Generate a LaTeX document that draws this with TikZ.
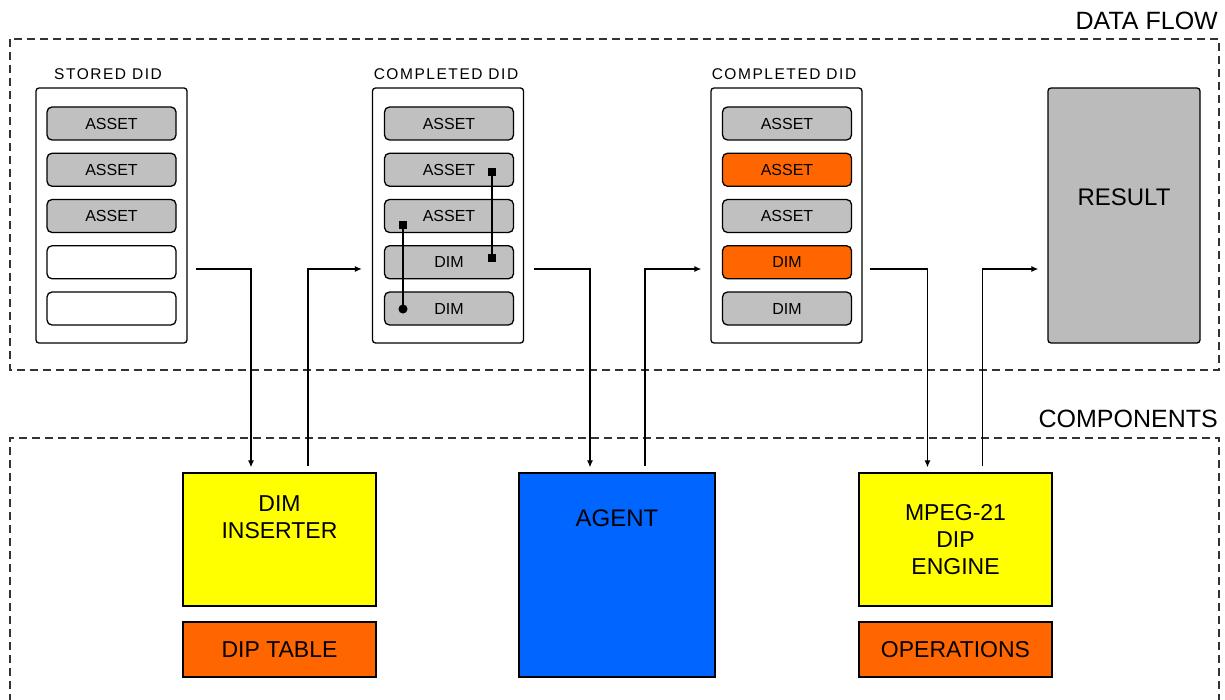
\documentclass[tikz,border=0pt]{standalone}
\usepackage{fontspec}
\setmainfont{Liberation Sans}
\newfontfamily\spacedfont[LetterSpace=10]{Liberation Sans}
\usetikzlibrary{arrows.meta}
\definecolor{itemgray}{RGB}{192,192,192}
\definecolor{resgray}{RGB}{187,187,187}
\definecolor{dorange}{RGB}{255,102,0}
\definecolor{dyellow}{RGB}{255,255,0}
\definecolor{dblue}{RGB}{0,102,255}
\begin{document}
\begin{tikzpicture}[x=1pt,y=-1pt,
  dashedbox/.style={draw=black!80, line width=1.3pt, dash pattern=on 8pt off 5pt},
  didbox/.style={draw, line width=1.3pt, rounded corners=3pt, minimum width=151pt, minimum height=255pt, inner sep=0pt},
  item/.style={draw, line width=1.3pt, rounded corners=5pt, fill=itemgray, minimum width=129pt, minimum height=33pt, inner sep=0pt, font=\fontsize{16}{18}\selectfont},
  hitem/.style={item, fill=dorange},
  eitem/.style={item, fill=white},
  didlabel/.style={inner sep=0pt, font=\fontsize{15.5}{18}\spacedfont},
  biglabel/.style={inner sep=0pt, font=\fontsize{25}{28}\selectfont},
  compbox/.style={draw, line width=1.3pt, inner sep=0pt, minimum width=193pt, font=\fontsize{23}{27}\selectfont, align=center},
  conn/.style={line width=1.2pt},
  arr/.style={conn, -{Latex[length=7pt,width=6pt]}},
  link/.style={line width=1.3pt},
]
\useasboundingbox (0,0) rectangle (1225,700);

% frames
\draw[dashedbox] (10,39) rectangle (1219,370);
\draw[dashedbox] (10,702) -- (10,438) -- (1219,438) -- (1219,702);
\node[biglabel, anchor=east] (dflab) at (1218,21) {DATA FLOW};
\node[biglabel, anchor=east] (cplab) at (1218,419) {COMPONENTS};

% Stored DID
\node[didlabel] (sdl) at (108,74) {STORED DID};
\node[didbox] (sd) at (111.5,215.5) {};
\node[item]  (s1) at (111.5,123.5) {ASSET};
\node[item]  (s2) at (111.5,169.75) {ASSET};
\node[item]  (s3) at (111.5,216) {ASSET};
\node[eitem] (s4) at (111.5,262.25) {};
\node[eitem] (s5) at (111.5,308.5) {};

% Completed DID 1
\node[didlabel] (c1l) at (446,74) {COMPLETED DID};
\node[didbox] (cd1) at (448,215.5) {};
\node[item] (a1) at (449,123.5) {ASSET};
\node[item] (a2) at (449,169.75) {ASSET};
\node[item] (a3) at (449,216) {ASSET};
\node[item] (a4) at (449,262.25) {DIM};
\node[item] (a5) at (449,308.5) {DIM};

% Completed DID 2
\node[didlabel] (c2l) at (784,74) {COMPLETED DID};
\node[didbox] (cd2) at (786.5,215.5) {};
\node[item]  (b1) at (787,123.5) {ASSET};
\node[hitem] (b2) at (787,169.75) {ASSET};
\node[item]  (b3) at (787,216) {ASSET};
\node[hitem] (b4) at (787,262.25) {DIM};
\node[item]  (b5) at (787,308.5) {DIM};

% Result
\node[draw, line width=1.3pt, rounded corners=3pt, fill=resgray, minimum width=152pt, minimum height=255pt, inner sep=0pt,
      label={[font=\fontsize{24}{28}\selectfont, yshift=18.5pt]center:RESULT}] (res) at (1124,215.5) {};

% Components
\node[compbox, fill=dyellow, minimum height=133pt,
      label={[font=\fontsize{23}{27}\selectfont, align=center, yshift=22.5pt]center:DIM\\INSERTER}] (ins) at (279.5,539.5) {};
\node[compbox, fill=dorange, minimum height=55pt] (dip) at (279.5,649.5) {DIP TABLE};
\node[compbox, fill=dblue, minimum width=196pt, minimum height=204pt,
      label={[font=\fontsize{24}{28}\selectfont, yshift=57pt]center:AGENT}] (agent) at (617,575) {};
\node[compbox, fill=dyellow, minimum height=133pt] (mpeg) at (955.5,539.5) {MPEG-21\\DIP\\ENGINE};
\node[compbox, fill=dorange, minimum height=55pt] (ops) at (955.5,649.5) {OPERATIONS};

% internal links in completed DID 1
\draw[link, {Square[length=8pt,width=8pt]}-{Square[length=8pt,width=8pt]}]
  ([shift={(43,-1.5)}]a2.center) -- ([shift={(43,0)}]a4.center);
\draw[link, {Square[length=8pt,width=8pt]}-{Circle[length=9pt,width=9pt]}]
  ([shift={(-46,5)}]a3.center) -- ([shift={(-46,5)}]a5.center);

% data flow connectors
\draw[arr] ([shift={(8,53.5)}]sd.east) -| ([shift={(-28.5,-5)}]ins.north);
\draw[arr] ([shift={(28.5,-6)}]ins.north) |- ([shift={(-10,53.5)}]cd1.west);
\draw[arr] ([shift={(10,53.5)}]cd1.east) -| ([shift={(-27,-5)}]agent.north);
\draw[arr] ([shift={(28,-6)}]agent.north) |- ([shift={(-9,53.5)}]cd2.west);
\draw[arr] ([shift={(7,53.5)}]cd2.east) -| ([shift={(-28,-5)}]mpeg.north);
\draw[arr] ([shift={(27,-6)}]mpeg.north) |- ([shift={(-9,53.5)}]res.west);
\end{tikzpicture}
\end{document}
